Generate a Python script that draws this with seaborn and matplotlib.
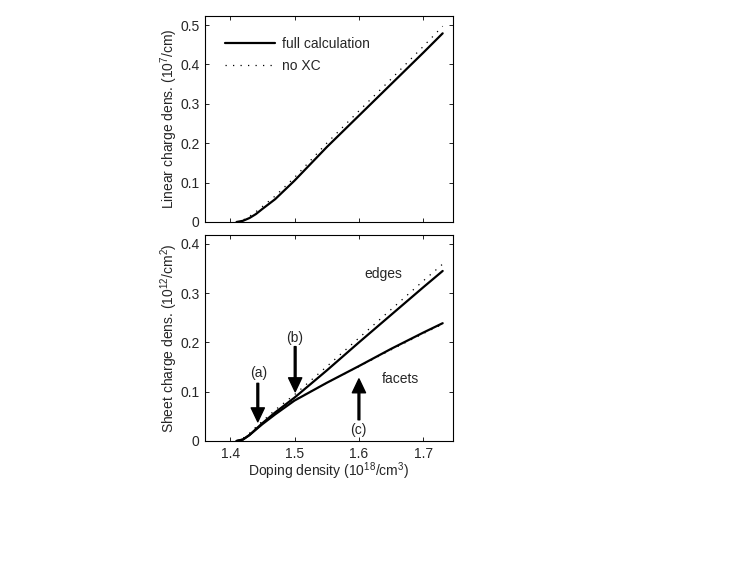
import numpy as np
import pandas as pd
import matplotlib
matplotlib.use("Agg")
import matplotlib.pyplot as plt
import seaborn as sns

# ---- data ----
x_pts = [1.41, 1.42, 1.43, 1.44, 1.45, 1.47, 1.50, 1.55, 1.60, 1.65, 1.70, 1.73]

lin_full = [0.0, 0.003, 0.010, 0.020, 0.033, 0.058, 0.105, 0.190, 0.270, 0.350, 0.430, 0.479]
lin_noxc = [0.0, 0.005, 0.014, 0.026, 0.039, 0.066, 0.113, 0.200, 0.282, 0.363, 0.446, 0.497]

edges_full = [0.0, 0.003, 0.012, 0.024, 0.036, 0.058, 0.088, 0.143, 0.200, 0.256, 0.312, 0.345]
edges_noxc = [0.0, 0.005, 0.015, 0.028, 0.040, 0.063, 0.094, 0.151, 0.209, 0.267, 0.325, 0.359]
facets_full = [0.0, 0.003, 0.012, 0.023, 0.034, 0.054, 0.082, 0.118, 0.152, 0.187, 0.220, 0.239]
facets_noxc = [0.0, 0.005, 0.015, 0.027, 0.038, 0.057, 0.083, 0.118, 0.151, 0.185, 0.218, 0.237]

x_ticks = [1.4, 1.5, 1.6, 1.7]
x_ticklabels = ["1.4", "1.5", "1.6", "1.7"]
top_yticks = [0, 0.1, 0.2, 0.3, 0.4, 0.5]
top_yticklabels = ["0", "0.1", "0.2", "0.3", "0.4", "0.5"]
bot_yticks = [0, 0.1, 0.2, 0.3, 0.4]
bot_yticklabels = ["0", "0.1", "0.2", "0.3", "0.4"]

legend_labels = ["full calculation", "no XC"]

# arrows: (x, tail_y, tip_y), labels: (text, x, y)
arrows = [(1.443, 0.117, 0.039), (1.501, 0.1915, 0.100), (1.600, 0.043, 0.126)]
annot_texts = [("(a)", 1.444, 0.137), ("(b)", 1.500, 0.208), ("(c)", 1.599, 0.022),
               ("edges", 1.638, 0.338), ("facets", 1.665, 0.126)]

# ---- style ----
sns.set_style("ticks")
plt.rcParams["font.family"] = ["Liberation Sans", "DejaVu Sans"]
plt.rcParams["mathtext.fontset"] = "custom"
plt.rcParams["mathtext.rm"] = "Liberation Sans"
plt.rcParams["mathtext.it"] = "Liberation Sans:italic"
plt.rcParams["mathtext.bf"] = "Liberation Sans:bold"
FS = 10

df = pd.DataFrame({"x": x_pts, "lin_full": lin_full, "lin_noxc": lin_noxc,
                   "edges_full": edges_full, "edges_noxc": edges_noxc,
                   "facets_full": facets_full, "facets_noxc": facets_noxc})

fig = plt.figure(figsize=(7.47, 5.65), dpi=100)
ax1 = fig.add_axes([0.2744, 0.6071, 0.332, 0.3646])
ax2 = fig.add_axes([0.2744, 0.2195, 0.332, 0.3646])

DOT = (0, (1, 5))
LWF = 1.6
LWD = 0.9

sns.lineplot(data=df, x="x", y="lin_full", ax=ax1, color="k", lw=LWF, label=legend_labels[0])
sns.lineplot(data=df, x="x", y="lin_noxc", ax=ax1, color="k", lw=LWD, linestyle=DOT, label=legend_labels[1])

sns.lineplot(data=df, x="x", y="edges_noxc", ax=ax2, color="k", lw=LWD, linestyle=DOT)
sns.lineplot(data=df, x="x", y="facets_noxc", ax=ax2, color="k", lw=LWD, linestyle=DOT)
sns.lineplot(data=df, x="x", y="edges_full", ax=ax2, color="k", lw=LWF)
sns.lineplot(data=df, x="x", y="facets_full", ax=ax2, color="k", lw=LWF)

for ax in (ax1, ax2):
    ax.set_xlim(1.361, 1.746)
    ax.set_xticks(x_ticks)
    ax.tick_params(direction="in", length=3, width=0.6, top=True, right=True,
                   labelsize=FS, pad=4, color="k")
    for s in ax.spines.values():
        s.set_linewidth(0.8)
        s.set_color("k")
        s.set_visible(True)

ax1.set_ylim(0, 0.523)
ax1.set_yticks(top_yticks)
ax1.set_yticklabels(top_yticklabels)
ax1.set_xticklabels([])
ax1.set_xlabel("")
ax1.set_ylabel("Linear charge dens. (10$^{7}$/cm)", fontsize=FS, labelpad=0)

ax2.set_ylim(0, 0.418)
ax2.set_yticks(bot_yticks)
ax2.set_yticklabels(bot_yticklabels)
ax2.set_xticklabels(x_ticklabels)
ax2.set_xlabel("Doping density (10$^{18}$/cm$^{3}$)", fontsize=FS, labelpad=0)
ax2.set_ylabel("Sheet charge dens. (10$^{12}$/cm$^{2}$)", fontsize=FS, labelpad=0)

leg = ax1.legend(loc="upper left", bbox_to_anchor=(0.08, 0.90), frameon=False,
                 fontsize=FS, handlelength=3.6, handletextpad=0.5, labelspacing=0.58,
                 borderpad=0, borderaxespad=0)

for (xa, y0, y1) in arrows:
    ax2.annotate("", xy=(xa, y1), xytext=(xa, y0),
                 arrowprops=dict(facecolor="k", edgecolor="k", width=1.3,
                                 headwidth=9.5, headlength=10, shrink=0))
for (t, xt, yt) in annot_texts:
    ax2.text(xt, yt, t, ha="center", va="center", fontsize=FS)

fig.savefig("out.png", dpi=100)
